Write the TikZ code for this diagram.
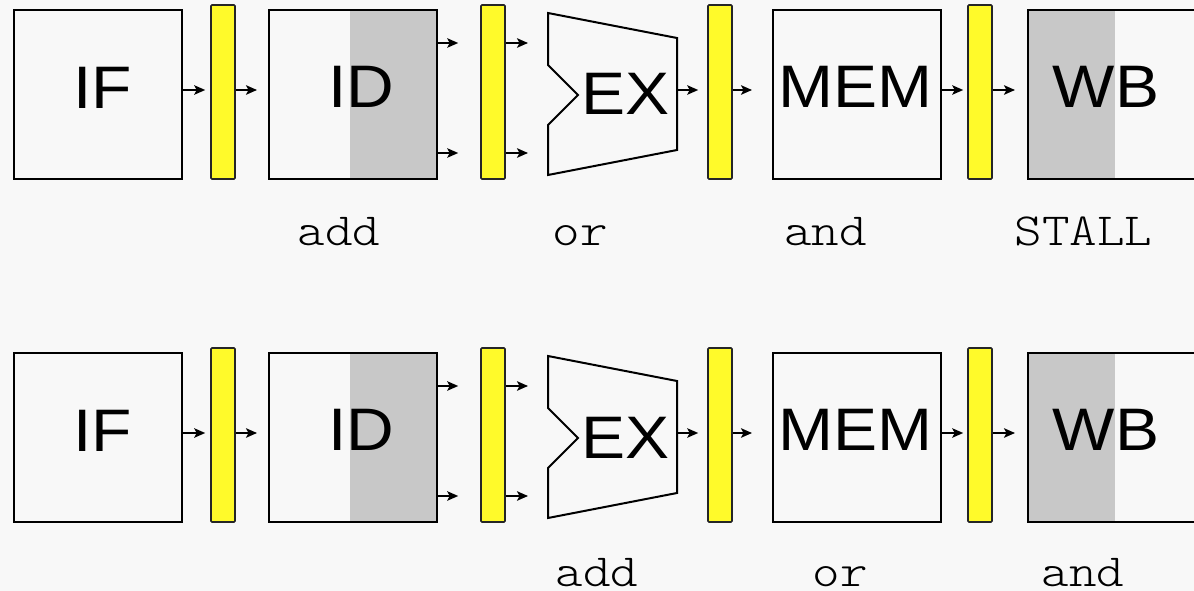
\documentclass[tikz,border=0pt]{standalone}
\usepackage{fontspec}
\newfontfamily\stagefont[FakeStretch=1.1]{Liberation Sans}
\newfontfamily\instrfont[FakeStretch=1.14]{Latin Modern Mono Light}
\usetikzlibrary{arrows.meta}
\definecolor{bg}{HTML}{F8F8F8}
\definecolor{latchyellow}{HTML}{FFFA2A}
\definecolor{busygray}{HTML}{C8C8C8}

\begin{document}
\begin{tikzpicture}[x=1pt,y=-1pt,
  stage/.style={draw=black, line width=2pt, minimum width=168pt, minimum height=169pt, inner sep=0pt},
  latch/.style={draw=black!85, fill=latchyellow, line width=1.6pt, rounded corners=1pt,
                minimum width=24pt, minimum height=174pt, inner sep=0pt},
  alu/.style={draw=black, line width=2pt, line join=miter},
  stagename/.style={font=\stagefont\fontsize{60}{60}\selectfont, anchor=base, inner sep=0pt},
  instr/.style={font=\instrfont\fontsize{46}{46}\selectfont, anchor=base, inner sep=0pt},
  arr/.style={line width=1.7pt, -{Stealth[length=11pt,width=9.5pt,inset=2.5pt]}},
]
\fill[bg] (0,0) rectangle (1194,591);
\useasboundingbox (0,0) rectangle (1194,591);
\clip (0,0) rectangle (1194,591);

% two snapshots of the five-stage pipeline
\foreach \r/\dy in {1/0,2/343}{
  \begin{scope}[shift={(0,\dy)}]
    % busy halves of the register-file stages
    \fill[busygray] (350,10) rectangle (437,179);
    \fill[busygray] (1028,10) rectangle (1115,179);

    % stages
    \node[stage] (IF\r)  at (98,94.5)   {};
    \node[stage] (ID\r)  at (352.5,94.5) {};
    \node[stage] (MEM\r) at (857,94.5)  {};
    \node[stage] (WB\r)  at (1112,94.5) {};
    \node[minimum width=129pt, minimum height=162pt, inner sep=0pt, outer sep=0pt] (EX\r) at (612.5,94) {};
    \draw[alu] (EX\r.north west) -- (EX\r.east |- 0,38) -- (EX\r.east |- 0,150)
      -- (EX\r.south west) -- (EX\r.west |- 0,125) -- (578,95) -- (EX\r.west |- 0,65) -- cycle;

    % pipeline registers
    \node[latch] (IFID\r)  at (223,92) {};
    \node[latch] (IDEX\r)  at (493,92) {};
    \node[latch] (EXMEM\r) at (720,92) {};
    \node[latch] (MEMWB\r) at (980,92) {};

    % stage names
    \node[stagename] (IFt\r)  at (102.5,108.5) {IF};
    \node[stagename] (IDt\r)  at (361,107.5)   {ID};
    \node[stagename] (EXt\r)  at (625.5,115)   {EX};
    \node[stagename] (MEMt\r) at (855.5,107.5) {MEM};
    \node[stagename] (WBt\r)  at (1106,107.5)  {WB};

    % data flow
    \draw[arr, shorten >=5pt]  (IF\r.east |- 0,90) -- (IFID\r.west |- 0,90);
    \draw[arr, shorten >=10.5pt] (IFID\r.east |- 0,90) -- (ID\r.west |- 0,90);
    \draw[arr, shorten >=22pt] (ID\r.east |- 0,43) -- (IDEX\r.west |- 0,43);
    \draw[arr, shorten >=22pt] (ID\r.east |- 0,153) -- (IDEX\r.west |- 0,153);
    \draw[arr, shorten >=20pt] (IDEX\r.east |- 0,43) -- (EX\r.west |- 0,43);
    \draw[arr, shorten >=20pt] (IDEX\r.east |- 0,153) -- (EX\r.west |- 0,153);
    \draw[arr, shorten >=9pt]  (EX\r.east |- 0,90) -- (EXMEM\r.west |- 0,90);
    \draw[arr, shorten >=20pt] (EXMEM\r.east |- 0,90) -- (MEM\r.west |- 0,90);
    \draw[arr, shorten >=4pt]  (MEM\r.east |- 0,90) -- (MEMWB\r.west |- 0,90);
    \draw[arr, shorten >=12pt] (MEMWB\r.east |- 0,90) -- (WB\r.west |- 0,90);
  \end{scope}
}

% instructions in flight, first snapshot
\node[instr] (i1add)   at (339,245)    {add};
\node[instr] (i1or)    at (580,245)    {or};
\node[instr] (i1and)   at (825.5,245)  {and};
\node[instr] (i1stall) at (1083.5,245) {STALL};

% instructions in flight, second snapshot
\node[instr] (i2add) at (597,586)  {add};
\node[instr] (i2or)  at (840,586)  {or};
\node[instr] (i2and) at (1083,586) {and};
\end{tikzpicture}
\end{document}
